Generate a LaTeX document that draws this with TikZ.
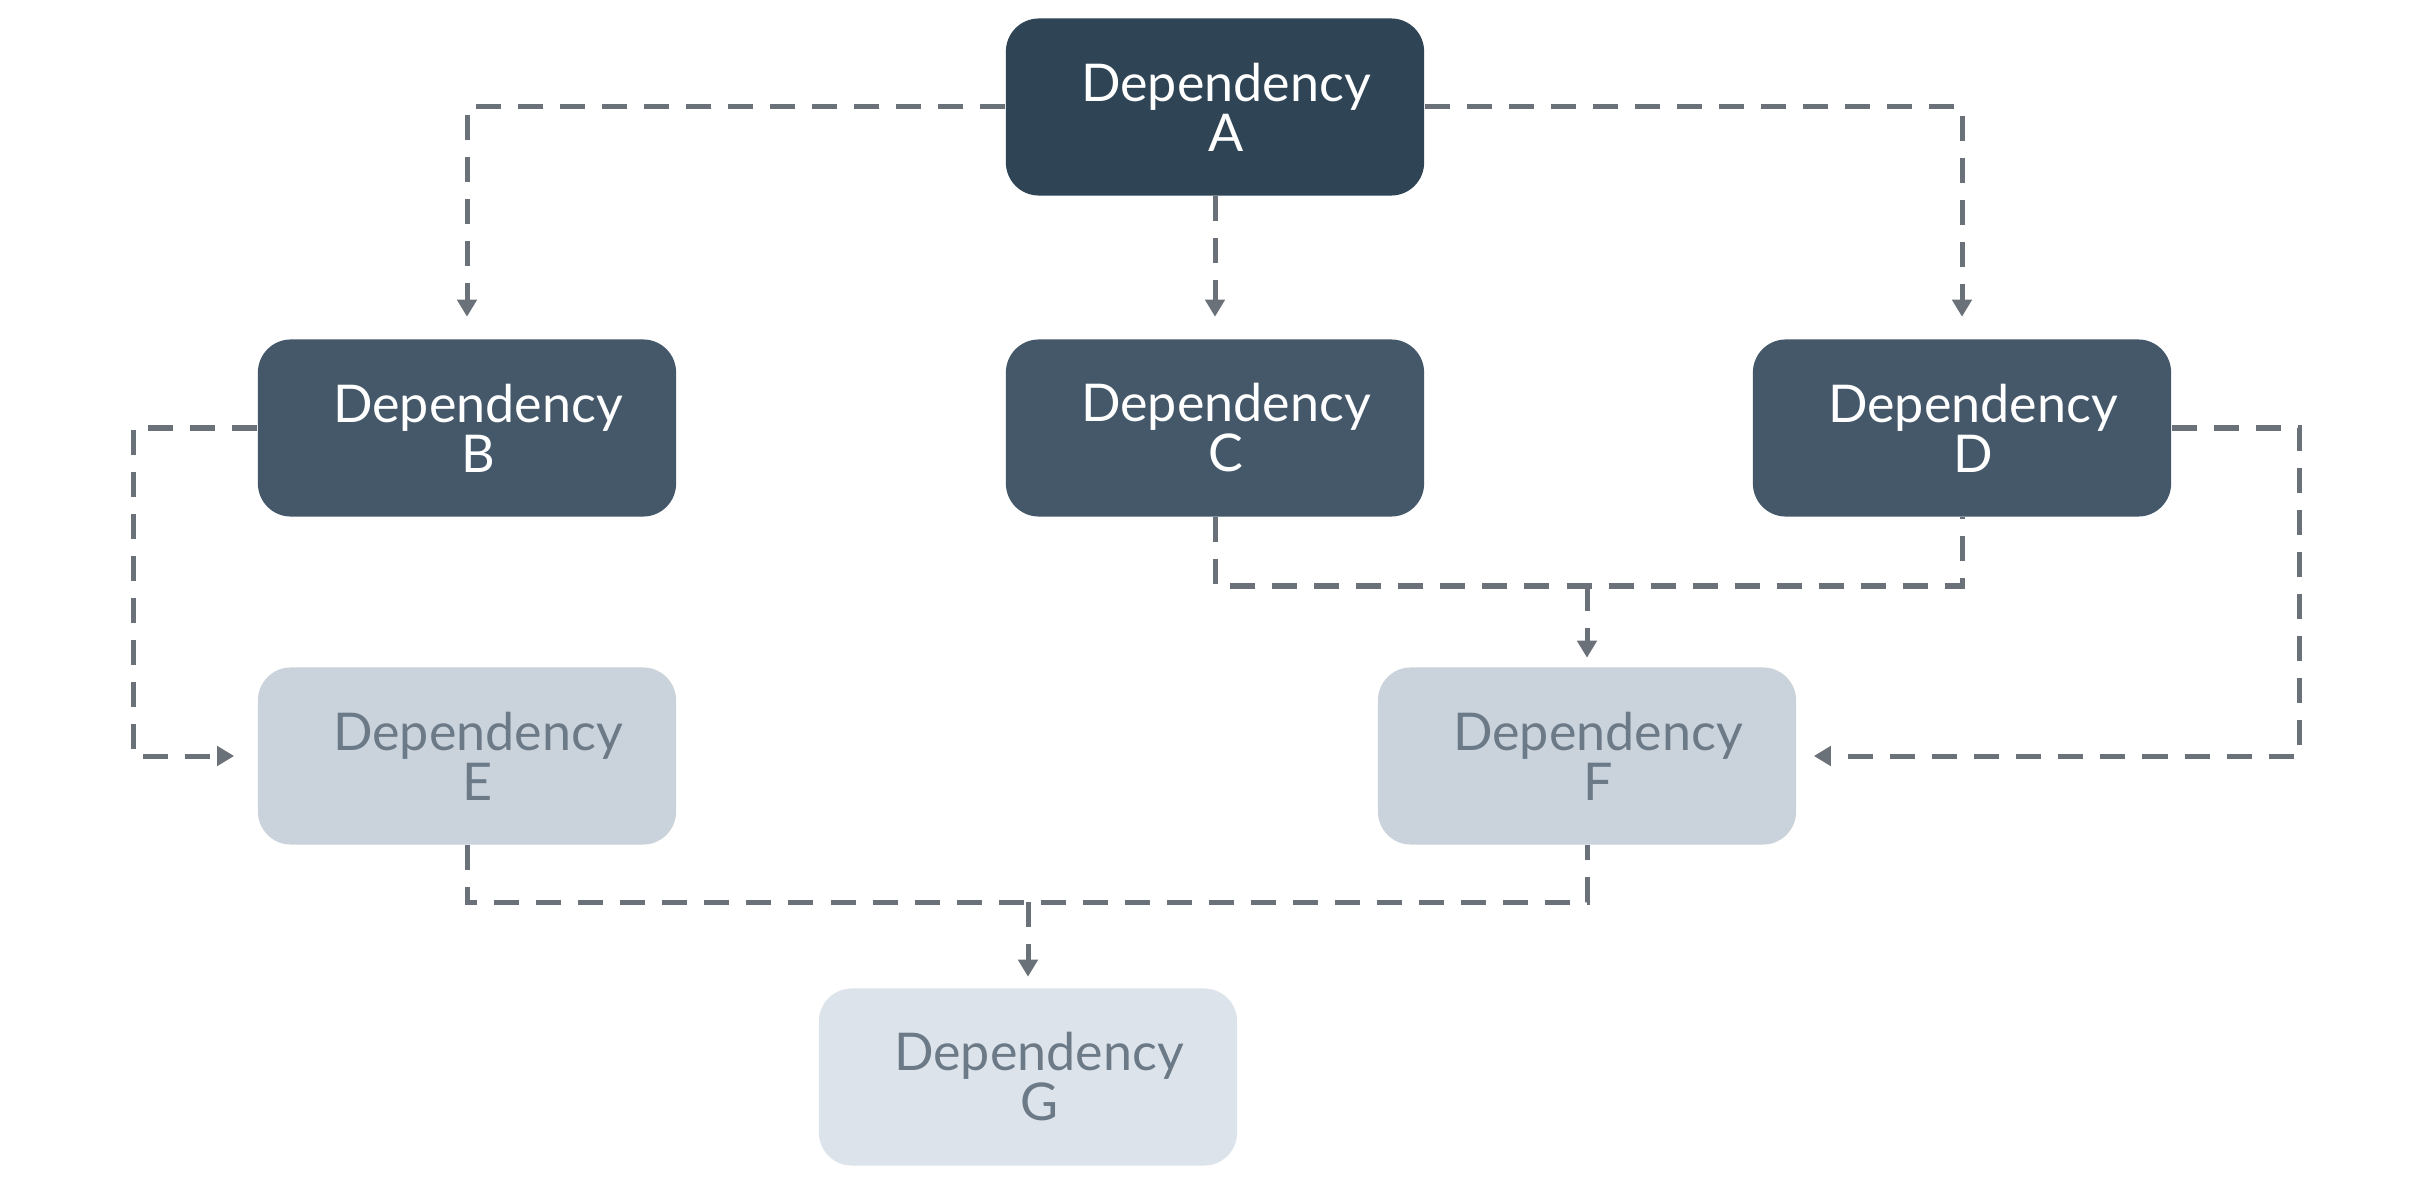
\documentclass[tikz,border=0pt]{standalone}
\usepackage{fontspec}
\setmainfont{Lato}
\usetikzlibrary{arrows.meta}

\definecolor{depA}{HTML}{2F4455}
\definecolor{depmid}{HTML}{45586A}
\definecolor{deplight}{HTML}{CAD2DB}
\definecolor{deppale}{HTML}{DDE3EA}
\definecolor{deptext}{HTML}{6C7A88}
\definecolor{deplink}{HTML}{6B7178}

% Beschriftung, leicht nach rechts versetzt
\newcommand{\deplabel}[1]{\hspace*{0.22cm}Dependency\\\hspace*{0.22cm}#1}

\tikzset{
	depbox/.style={rounded corners=0.33cm, minimum width=4.18cm, minimum height=1.77cm,
		inner sep=0pt, align=center, font=\fontsize{14.8}{14.2}\selectfont},
	topbox/.style={depbox, fill=depA, text=white},
	midbox/.style={depbox, fill=depmid, text=white},
	lowbox/.style={depbox, fill=deplight, text=deptext},
	endbox/.style={depbox, fill=deppale, text=deptext},
	link/.style={line width=0.05cm, draw=deplink, dash pattern=on 0.25cm off 0.17cm},
	linkarrow/.style={link, -{Triangle[width=0.19cm,length=0.17cm]}, deplink},
}

\begin{document}
\begin{tikzpicture}[x=0.01cm, y=-0.01cm]
		\useasboundingbox[fill=white] (0,0) rectangle (2426,1188);
		% Abhaengigkeiten
		\node[topbox] (A) at (1215,107) {\deplabel{A}};
		\node[midbox] (B) at (467,428) {\deplabel{B}};
		\node[midbox] (C) at (1215,428) {\deplabel{C}};
		\node[midbox] (D) at (1962,428) {\deplabel{D}};
		\node[lowbox] (E) at (467,756) {\deplabel{E}};
		\node[lowbox] (F) at (1587,756) {\deplabel{F}};
		\node[endbox] (G) at (1028,1077) {\deplabel{G}};
		% Sammelpunkte
		\coordinate (CD) at (1587,586);
		\coordinate (EF) at (1028,902);
		% A nach B, C, D
		\draw[linkarrow, shorten >=0.22cm] (A.west) -| (B.north);
		\draw[linkarrow, shorten >=0.22cm] (A.south) -- (C.north);
		\draw[linkarrow, shorten >=0.22cm] (A.east) -| (D.north);
		% B nach E
		\draw[linkarrow, shorten >=0.23cm] (B.west) -- ++(-124,0) |- (E.west);
		% C und D nach F
		\draw[link] (C.south) |- (CD) -| (D.south);
		\draw[linkarrow, shorten >=0.09cm] (CD) -- (F.north);
		\draw[linkarrow, shorten >=0.17cm] (D.east) -- ++(128,0) |- (F.east);
		% E und F nach G
		\draw[link] (E.south) |- (EF) -| (F.south);
		\draw[linkarrow, shorten >=0.11cm] (EF) -- (G.north);
	\end{tikzpicture}
\end{document}
